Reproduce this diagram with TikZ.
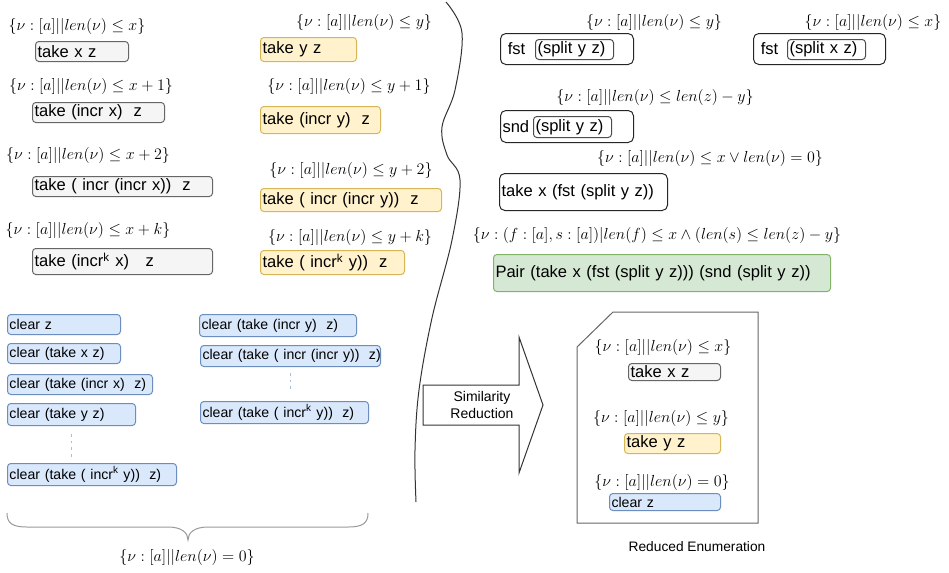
\documentclass[tikz,border=0pt]{standalone}
\usepackage[no-math]{fontspec}
\newfontfamily\arialf{Liberation Sans}
\usetikzlibrary{calc}
\definecolor{gfill}{HTML}{F5F5F5}
\definecolor{gstroke}{HTML}{666666}
\definecolor{yfill}{HTML}{FFF2CC}
\definecolor{ystroke}{HTML}{D6B656}
\definecolor{bfill}{HTML}{DAE8FC}
\definecolor{bstroke}{HTML}{6C8EBF}
\definecolor{grfill}{HTML}{D5E8D4}
\definecolor{grstroke}{HTML}{82B366}
\definecolor{dotc}{HTML}{A9BEDC}
\tikzset{
  bxbase/.style={rounded corners=2.5pt, line width=0.75pt, inner xsep=1.5pt, inner ysep=0pt, align=left, font=\arialf\fontsize{12.4}{14}\selectfont},
  graybox/.style={bxbase, draw=gstroke, fill=gfill},
  yelbox/.style={bxbase, draw=ystroke, fill=yfill},
  blubox/.style={bxbase, draw=bstroke, fill=bfill, font=\arialf\fontsize{10.6}{12}\selectfont},
  grnbox/.style={bxbase, draw=grstroke, fill=grfill},
  blkbox/.style={bxbase, draw=black!85, fill=white, rounded corners=4pt},
  inbox/.style={bxbase, draw=black!70, fill=white},
  lab/.style={font=\fontsize{12.4}{15}\selectfont, inner sep=0pt},
  captxt/.style={font=\arialf\fontsize{10.5}{12.5}\selectfont, align=center, inner sep=0pt},
  dotline/.style={draw=dotc, line width=0.9pt, dash pattern=on 2pt off 3pt},
}
\newcommand{\bx}[7]{%
  \pgfmathsetmacro\bxw{(#5-#3)*0.75}%
  \pgfmathsetmacro\bxh{(#6-#4)*0.75}%
  \pgfmathsetmacro\bxt{\bxw-3}%
  \node[#1, anchor=north west, text width=\bxt pt, minimum height=\bxh pt] (#2) at (#3,#4) {\mbox{#7}};}
\begin{document}
\begin{tikzpicture}[x=0.75pt,y=-0.75pt]
\useasboundingbox (0,0) rectangle (949,572);
% ---------- gray column ----------
\node[lab] (lx0) at (77,26) {$\{\nu:[a]||len(\nu)\le x\}$};
\bx{graybox}{gx0}{35}{41}{128}{61}{take x z}
\node[lab] (lx1) at (91,86) {$\{\nu:[a]||len(\nu)\le x+1\}$};
\bx{graybox}{gx1}{32}{102}{164}{122}{take (incr x)~~z}
\node[lab] (lx2) at (88,155) {$\{\nu:[a]||len(\nu)\le x+2\}$};
\bx{graybox}{gx2}{32}{176}{212}{196}{take ( incr (incr x))~~z}
\node[lab] (lxk) at (88,230) {$\{\nu:[a]||len(\nu)\le x+k\}$};
\bx{graybox}{gxk}{32}{248}{212}{274}{take (incr\textsuperscript{k} x)~~~z}
% ---------- yellow column ----------
\node[lab] (ly0) at (364,22) {$\{\nu:[a]||len(\nu)\le y\}$};
\bx{yelbox}{gy0}{260}{37}{356}{61}{take y z}
\node[lab] (ly1) at (349,86) {$\{\nu:[a]||len(\nu)\le y+1\}$};
\bx{yelbox}{gy1}{260}{106}{380}{133}{take (incr y)~~z}
\node[lab] (ly2) at (351,170) {$\{\nu:[a]||len(\nu)\le y+2\}$};
\bx{yelbox}{gy2}{260}{188}{441}{211}{take ( incr (incr y))~~z}
\node[lab] (lyk) at (350,237) {$\{\nu:[a]||len(\nu)\le y+k\}$};
\bx{yelbox}{gyk}{260}{250}{404}{274}{take ( incr\textsuperscript{k} y))~~z}
% ---------- wavy separator ----------
\draw[black!80, line width=0.75pt] plot[smooth, tension=0.6] coordinates {(446,2) (462,33) (455,90) (442,127) (447,155) (460,180) (452,240) (432,318) (419,390) (415,450) (416,502)};
% ---------- right part ----------
\node[lab] (r1) at (654,22) {$\{\nu:[a]||len(\nu)\le y\}$};
\bx{blkbox}{f1}{500}{33}{633}{64}{\hspace{4pt}fst}
\bx{inbox}{s1}{535}{39}{613}{59}{(split y z)}
\node[lab] (r2) at (873,22) {$\{\nu:[a]||len(\nu)\le x\}$};
\bx{blkbox}{f2}{753}{33}{885}{64}{\hspace{4pt}fst}
\bx{inbox}{s2}{787}{39}{865}{59}{(split x z)}
\node[lab] (r3) at (655,97) {$\{\nu:[a]||len(\nu)\le len(z)-y\}$};
\bx{blkbox}{f3}{500}{110}{633}{142}{snd}
\bx{inbox}{s3}{533}{116}{611}{137}{(split y z)}
\node[lab] (r4) at (710,158) {$\{\nu:[a]||len(\nu)\le x\vee len(\nu)=0\}$};
\bx{blkbox}{tk}{499}{173}{667}{210}{take x (fst (split y z))}
\node[lab] (r5) at (657,235) {$\{\nu:(f:[a],s:[a])|len(f)\le x\wedge(len(s)\le len(z)-y\}$};
\bx{grnbox}{pr}{493}{254}{830}{291}{Pair (take x (fst (split y z))) (snd (split y z))}
% ---------- clear boxes ----------
\bx{blubox}{c0}{7}{314}{120}{334}{clear z}
\bx{blubox}{c1}{7}{343}{120}{363}{clear (take x z)}
\bx{blubox}{c2}{7}{374}{152}{394}{clear (take (incr x)~~z)}
\bx{blubox}{c3}{7}{403}{135}{425}{clear (take y z)}
\bx{blubox}{c4}{7}{463}{176}{485}{clear (take ( incr\textsuperscript{k} y))~~z)}
\bx{blubox}{d0}{199}{314}{356}{336}{clear (take (incr y)~~z)}
\bx{blubox}{d1}{200}{345}{380}{366}{clear (take ( incr (incr y))~~z)}
\bx{blubox}{d2}{200}{401}{368}{423}{clear (take ( incr\textsuperscript{k} y))~~z)}
\draw[dotline, shorten <=6pt, shorten >=4.5pt] (c3.south) -- (c3.south |- c4.north);
\draw[dotline, shorten <=4.5pt, shorten >=6pt] (d1.south) -- (d1.south |- d2.north);
% brace
\draw[gray!80, line width=0.75pt] (7,513) .. controls (7,523) and (12,527) .. (27,527) -- (168,527) .. controls (182,527) and (188,533) .. (188,540) .. controls (188,533) and (194,527) .. (208,527) -- (348,527) .. controls (363,527) and (368,523) .. (368,513);
\node[lab] (lz) at (187,557) {$\{\nu:[a]||len(\nu)=0\}$};
% ---------- arrow ----------
\draw[black!80, line width=0.75pt, fill=white] (423,385) -- (519,385) -- (519,337) -- (543,405) -- (519,473) -- (519,425) -- (423,425) -- cycle;
\node[captxt] (sim) at (482,405) {Similarity\\Reduction};
% ---------- document ----------
\draw[gstroke, line width=0.75pt, fill=white] (577,347) -- (613,312) -- (758,312) -- (758,523) -- (577,523) -- cycle;
\node[lab] (e0l) at (663,347) {$\{\nu:[a]||len(\nu)\le x\}$};
\bx{graybox}{e0}{628}{363}{720}{380}{take x z}
\node[lab] (e1l) at (661,418) {$\{\nu:[a]||len(\nu)\le y\}$};
\bx{yelbox}{e1}{624}{433}{720}{453}{take y z}
\node[lab] (e2l) at (662,482) {$\{\nu:[a]||len(\nu)=0\}$};
\bx{blubox}{e2}{609}{493}{720}{510}{clear z}
\node[captxt, font=\arialf\fontsize{10.3}{12}\selectfont] (red) at (697,547) {Reduced Enumeration};
\end{tikzpicture}
\end{document}
